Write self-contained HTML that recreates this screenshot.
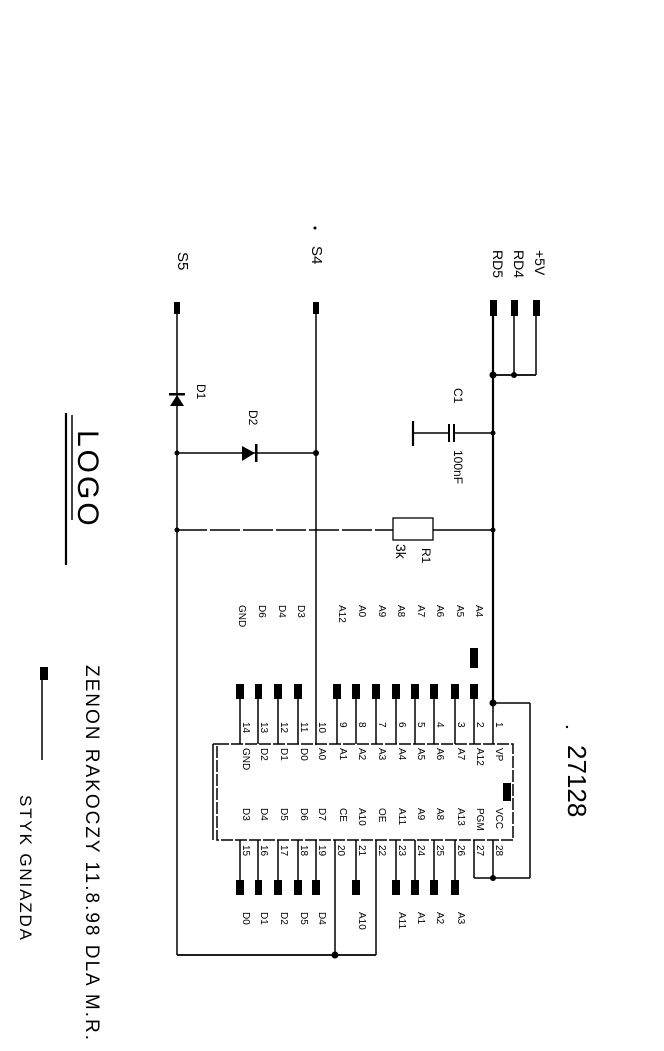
<!DOCTYPE html>
<html><head><meta charset="utf-8"><style>
html,body{margin:0;padding:0;background:#fff}
svg{display:block}
text{font-family:"Liberation Sans",sans-serif;fill:#000}
</style></head><body>
<svg width="664" height="1051" viewBox="0 0 664 1051" xmlns="http://www.w3.org/2000/svg">
<g stroke="#000" stroke-width="1.5" fill="none">
<line x1="177" y1="312" x2="177" y2="955"/>
<line x1="316" y1="312" x2="316" y2="745"/>
<line x1="493" y1="312" x2="493" y2="703" stroke-width="2.2"/>
<line x1="514" y1="312" x2="514" y2="375"/>
<line x1="536" y1="312" x2="536" y2="375"/>
<line x1="493" y1="375" x2="536" y2="375" stroke-width="1.8"/>
<line x1="413" y1="433" x2="449" y2="433"/>
<line x1="454" y1="433" x2="493" y2="433"/>
<line x1="413" y1="421" x2="413" y2="446" stroke-width="2.2"/>
<line x1="449" y1="424" x2="449" y2="442" stroke-width="2"/>
<line x1="454" y1="424" x2="454" y2="442" stroke-width="2"/>
<line x1="177" y1="453" x2="316" y2="453"/>
<line x1="177" y1="530" x2="393" y2="530" stroke-dasharray="30 3"/>
<line x1="433" y1="530" x2="493" y2="530"/>
<rect x="393" y="518" width="40" height="22" stroke-width="1.3"/>
<rect x="217" y="744" width="296" height="96" stroke-dasharray="12 2"/>
<line x1="213" y1="744" x2="217" y2="744"/>
<line x1="213" y1="744" x2="213" y2="840"/>
<line x1="493" y1="703" x2="530" y2="703"/>
<line x1="530" y1="703" x2="530" y2="878"/>
<line x1="474" y1="878" x2="530" y2="878"/>
<line x1="177" y1="955" x2="376" y2="955" stroke-width="1.8"/>
<line x1="335" y1="840" x2="335" y2="955"/>
<line x1="376" y1="840" x2="376" y2="955"/>
<g>
<line x1="240" y1="690" x2="240" y2="744"/><line x1="258" y1="690" x2="258" y2="744"/>
<line x1="278" y1="690" x2="278" y2="744"/><line x1="298" y1="690" x2="298" y2="744"/>
<line x1="337" y1="690" x2="337" y2="744"/><line x1="356" y1="690" x2="356" y2="744"/>
<line x1="376" y1="690" x2="376" y2="744"/><line x1="396" y1="690" x2="396" y2="744"/>
<line x1="415" y1="690" x2="415" y2="744"/><line x1="434" y1="690" x2="434" y2="744"/>
<line x1="455" y1="690" x2="455" y2="744"/><line x1="474" y1="690" x2="474" y2="744"/>
<line x1="493" y1="703" x2="493" y2="744"/>
</g>
<g>
<line x1="240" y1="840" x2="240" y2="890"/><line x1="258" y1="840" x2="258" y2="890"/>
<line x1="278" y1="840" x2="278" y2="890"/><line x1="298" y1="840" x2="298" y2="890"/>
<line x1="316" y1="840" x2="316" y2="890"/><line x1="356" y1="840" x2="356" y2="890"/>
<line x1="396" y1="840" x2="396" y2="890"/><line x1="415" y1="840" x2="415" y2="890"/>
<line x1="434" y1="840" x2="434" y2="890"/><line x1="455" y1="840" x2="455" y2="890"/>
<line x1="474" y1="840" x2="474" y2="878"/><line x1="493" y1="840" x2="493" y2="878"/>
</g>
<line x1="66" y1="413" x2="66" y2="565" stroke-width="2.2"/>
<line x1="72" y1="415" x2="72" y2="520"/>
<line x1="42" y1="680" x2="42" y2="760"/>
</g>
<g fill="#000">
<rect x="490" y="300" width="7" height="16"/><rect x="511" y="300" width="7" height="16"/><rect x="533" y="300" width="7" height="16"/>
<rect x="174" y="302" width="6" height="12"/><rect x="313" y="302" width="6" height="12"/>
<rect x="236" y="684" width="8" height="15"/><rect x="255" y="684" width="7" height="15"/><rect x="274" y="684" width="8" height="15"/><rect x="294" y="684" width="8" height="15"/>
<rect x="333" y="684" width="8" height="15"/><rect x="352" y="684" width="8" height="15"/><rect x="372" y="684" width="8" height="15"/><rect x="392" y="684" width="8" height="15"/>
<rect x="411" y="684" width="8" height="15"/><rect x="430" y="684" width="8" height="15"/><rect x="451" y="684" width="8" height="15"/><rect x="470" y="684" width="8" height="15"/>
<rect x="236" y="880" width="8" height="15"/><rect x="255" y="880" width="7" height="15"/><rect x="274" y="880" width="8" height="15"/><rect x="294" y="880" width="8" height="15"/>
<rect x="312" y="880" width="8" height="15"/><rect x="352" y="880" width="8" height="15"/><rect x="392" y="880" width="8" height="15"/><rect x="411" y="880" width="8" height="15"/>
<rect x="430" y="880" width="8" height="15"/><rect x="451" y="880" width="8" height="15"/>
<rect x="503" y="783" width="8" height="18"/>
<rect x="40" y="667" width="8" height="13"/>
<rect x="470" y="648" width="8" height="20"/>
<circle cx="493" cy="375" r="3.5"/><circle cx="514" cy="375" r="3"/>
<circle cx="493" cy="433" r="2.5"/><circle cx="493" cy="530" r="2.5"/>
<circle cx="493" cy="703" r="3.5"/><circle cx="493" cy="878" r="3"/><circle cx="335" cy="955" r="3.5"/>
<circle cx="177" cy="453" r="2.5"/><circle cx="316" cy="453" r="3"/><circle cx="177" cy="530" r="2.5"/>
<circle cx="315" cy="228" r="1.5"/><circle cx="567" cy="727" r="1.2"/>
<polygon points="242,446 242,461 255,453"/>
<rect x="255" y="444" width="2.5" height="18"/>
<polygon points="170,406 184,406 177,395"/>
<rect x="169" y="393" width="16" height="2.5"/>
</g>
<g font-size="12">
<text transform="translate(178,252) rotate(90)" font-size="15">S5</text>
<text transform="translate(312,246) rotate(90)" font-size="15">S4</text>
<text transform="translate(535,250) rotate(90)" font-size="14">+5V</text>
<text transform="translate(514,250) rotate(90)" font-size="14">RD4</text>
<text transform="translate(493,250) rotate(90)" font-size="14">RD5</text>
<text transform="translate(197,384) rotate(90)">D1</text>
<text transform="translate(249,410) rotate(90)">D2</text>
<text transform="translate(454,388) rotate(90)">C1</text>
<text transform="translate(454,450) rotate(90)">100nF</text>
<text transform="translate(422,548) rotate(90)">R1</text>
<text transform="translate(396,544) rotate(90)" font-size="14">3k</text>
<text transform="translate(78,430) rotate(90)" font-size="30" letter-spacing="3">LOGO</text>
<text transform="translate(568,745) rotate(90)" font-size="26">27128</text>
<text transform="translate(86,665) rotate(90)" font-size="19" textLength="375" lengthAdjust="spacing">ZENON RAKOCZY  11.8.98  DLA M.R.</text>
<text transform="translate(20,795) rotate(90)" font-size="17" textLength="145" lengthAdjust="spacing">STYK GNIAZDA</text>
</g>
<g font-size="10">
<text transform="translate(476,605) rotate(90)">A4</text>
<text transform="translate(457,605) rotate(90)">A5</text>
<text transform="translate(437,605) rotate(90)">A6</text>
<text transform="translate(418,605) rotate(90)">A7</text>
<text transform="translate(398,605) rotate(90)">A8</text>
<text transform="translate(379,605) rotate(90)">A9</text>
<text transform="translate(359,605) rotate(90)">A0</text>
<text transform="translate(339,605) rotate(90)">A12</text>
<text transform="translate(298,605) rotate(90)">D3</text>
<text transform="translate(279,605) rotate(90)">D4</text>
<text transform="translate(259,605) rotate(90)">D6</text>
<text transform="translate(239,605) rotate(90)">GND</text>
<text transform="translate(496,722) rotate(90)">1</text>
<text transform="translate(477,722) rotate(90)">2</text>
<text transform="translate(458,722) rotate(90)">3</text>
<text transform="translate(437,722) rotate(90)">4</text>
<text transform="translate(418,722) rotate(90)">5</text>
<text transform="translate(399,722) rotate(90)">6</text>
<text transform="translate(379,722) rotate(90)">7</text>
<text transform="translate(359,722) rotate(90)">8</text>
<text transform="translate(340,722) rotate(90)">9</text>
<text transform="translate(319,722) rotate(90)">10</text>
<text transform="translate(301,722) rotate(90)">11</text>
<text transform="translate(281,722) rotate(90)">12</text>
<text transform="translate(261,722) rotate(90)">13</text>
<text transform="translate(243,722) rotate(90)">14</text>
<text transform="translate(496,748) rotate(90)">VP</text>
<text transform="translate(477,748) rotate(90)">A12</text>
<text transform="translate(458,748) rotate(90)">A7</text>
<text transform="translate(437,748) rotate(90)">A6</text>
<text transform="translate(418,748) rotate(90)">A5</text>
<text transform="translate(399,748) rotate(90)">A4</text>
<text transform="translate(379,748) rotate(90)">A3</text>
<text transform="translate(359,748) rotate(90)">A2</text>
<text transform="translate(340,748) rotate(90)">A1</text>
<text transform="translate(319,748) rotate(90)">A0</text>
<text transform="translate(301,748) rotate(90)">D0</text>
<text transform="translate(281,748) rotate(90)">D1</text>
<text transform="translate(261,748) rotate(90)">D2</text>
<text transform="translate(243,748) rotate(90)">GND</text>
<text transform="translate(496,808) rotate(90)">VCC</text>
<text transform="translate(477,808) rotate(90)">PGM</text>
<text transform="translate(458,808) rotate(90)">A13</text>
<text transform="translate(437,808) rotate(90)">A8</text>
<text transform="translate(418,808) rotate(90)">A9</text>
<text transform="translate(399,808) rotate(90)">A11</text>
<text transform="translate(379,808) rotate(90)">OE</text>
<text transform="translate(359,808) rotate(90)">A10</text>
<text transform="translate(340,808) rotate(90)">CE</text>
<text transform="translate(319,808) rotate(90)">D7</text>
<text transform="translate(301,808) rotate(90)">D6</text>
<text transform="translate(281,808) rotate(90)">D5</text>
<text transform="translate(261,808) rotate(90)">D4</text>
<text transform="translate(243,808) rotate(90)">D3</text>
<text transform="translate(496,845) rotate(90)">28</text>
<text transform="translate(477,845) rotate(90)">27</text>
<text transform="translate(458,845) rotate(90)">26</text>
<text transform="translate(437,845) rotate(90)">25</text>
<text transform="translate(418,845) rotate(90)">24</text>
<text transform="translate(399,845) rotate(90)">23</text>
<text transform="translate(379,845) rotate(90)">22</text>
<text transform="translate(359,845) rotate(90)">21</text>
<text transform="translate(338,845) rotate(90)">20</text>
<text transform="translate(319,845) rotate(90)">19</text>
<text transform="translate(301,845) rotate(90)">18</text>
<text transform="translate(281,845) rotate(90)">17</text>
<text transform="translate(261,845) rotate(90)">16</text>
<text transform="translate(243,845) rotate(90)">15</text>
<text transform="translate(458,912) rotate(90)">A3</text>
<text transform="translate(437,912) rotate(90)">A2</text>
<text transform="translate(418,912) rotate(90)">A1</text>
<text transform="translate(399,912) rotate(90)">A11</text>
<text transform="translate(359,912) rotate(90)">A10</text>
<text transform="translate(319,912) rotate(90)">D4</text>
<text transform="translate(301,912) rotate(90)">D5</text>
<text transform="translate(281,912) rotate(90)">D2</text>
<text transform="translate(261,912) rotate(90)">D1</text>
<text transform="translate(243,912) rotate(90)">D0</text>
</g>
</svg>
</body></html>
